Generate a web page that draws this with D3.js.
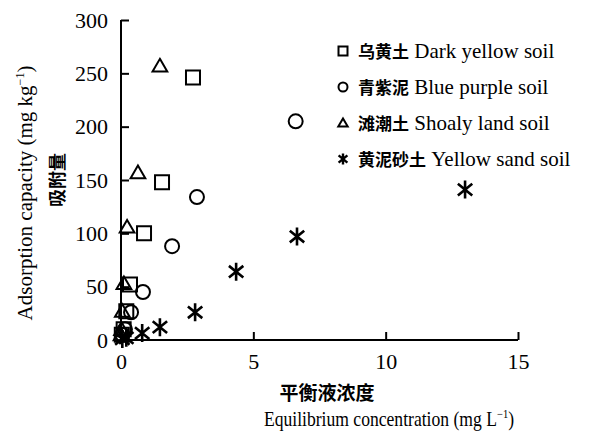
<!DOCTYPE html>
<html>
<head>
<meta charset="utf-8">
<script src="https://cdn.jsdelivr.net/npm/d3@7"></script>
<style>
  body { margin: 0; background: #fff; }
  text { fill: #000; }
</style>
</head>
<body>
<div class="vis-scatter"></div>
<script>
// series: equilibrium concentration (mg/L) and adsorption (mg/kg)
const darkYellowX = [0.03, 0.1, 0.2, 0.34, 0.87, 1.55, 2.72];
const darkYellowY = [5, 10, 27, 52, 100, 148, 246];
const bluePurpleX = [0.05, 0.15, 0.38, 0.83, 1.93, 2.87, 6.6];
const bluePurpleY = [5, 10, 26, 45, 88, 134, 205];
const shoalyX = [0.0, 0.02, 0.05, 0.11, 0.23, 0.64, 1.47];
const shoalyY = [5, 10, 27, 53, 106, 157, 257];
const yellowSandX = [0.05, 0.2, 0.8, 1.47, 2.8, 4.35, 6.65, 13.0];
const yellowSandY = [1, 2, 6.5, 12, 26, 64, 97, 141];

const xTicks = [0, 5, 10, 15];
const yTicks = [0, 50, 100, 150, 200, 250, 300];
const seriesNames = ['乌黄土 Dark yellow soil', '青紫泥 Blue purple soil', '滩潮土 Shoaly land soil', '黄泥砂土 Yellow sand soil'];
const seriesShapes = ['square', 'circle', 'triangle', 'star'];

const width = 603, height = 434;
const margin = {top: 20, right: 85, bottom: 94, left: 121};

const svg = d3.select('.vis-scatter').append('svg')
    .attr('width', width)
    .attr('height', height);

const x = d3.scaleLinear().domain([0, 15]).range([margin.left, width - margin.right]);
const y = d3.scaleLinear().domain([0, 300]).range([height - margin.bottom, margin.top]);

const serif = '"Liberation Serif", "Times New Roman", serif';
const cjk = '"Noto Sans CJK SC", sans-serif';

// axes
const xAxis = svg.append('g')
    .attr('transform', 'translate(0,' + y(0) + ')')
    .call(d3.axisBottom(x).tickValues(xTicks).tickSizeInner(-8).tickSizeOuter(0).tickPadding(13));
const yAxis = svg.append('g')
    .attr('transform', 'translate(' + x(0) + ',0)')
    .call(d3.axisLeft(y).tickValues(yTicks).tickSizeInner(-8).tickSizeOuter(0).tickPadding(13));

[xAxis, yAxis].forEach(g => {
    g.select('.domain').attr('stroke', '#000').attr('stroke-width', 2);
    g.selectAll('.tick line').attr('stroke', '#000').attr('stroke-width', 2);
    g.selectAll('.tick text')
        .style('font-family', serif)
        .style('font-size', '22px')
        .attr('fill', '#000');
});
yAxis.select('.domain').attr('d', 'M0,' + y(0) + 'V' + y(300));
xAxis.select('.domain').attr('d', 'M' + x(0) + ',0H' + x(15));

// markers
const star = (s) => {
    const h = s / 2;
    return 'M0,' + (-h) + 'V' + h +
        'M' + (-h * 0.8) + ',' + (-h * 0.65) + 'L' + (h * 0.8) + ',' + (h * 0.65) +
        'M' + (-h * 0.8) + ',' + (h * 0.65) + 'L' + (h * 0.8) + ',' + (-h * 0.65);
};
const markerPath = (shape, size) => {
    if (shape === 'square') {
        const h = size / 2;
        return 'M' + (-h) + ',' + (-h) + 'H' + h + 'V' + h + 'H' + (-h) + 'Z';
    }
    if (shape === 'circle') return d3.symbol().type(d3.symbolCircle).size(Math.PI * (size / 2) * (size / 2))();
    if (shape === 'triangle') {
        const h = size / 2;
        return 'M0,' + (-h) + 'L' + (h * 1.05) + ',' + (h * 0.8) + 'H' + (-h * 1.05) + 'Z';
    }
    return star(size);
};

const allX = [darkYellowX, bluePurpleX, shoalyX, yellowSandX];
const allY = [darkYellowY, bluePurpleY, shoalyY, yellowSandY];

allX.forEach((xs, i) => {
    const pts = xs.map((v, j) => ({x: v, y: allY[i][j]}));
    svg.append('g').selectAll('path')
        .data(pts)
        .enter().append('path')
        .attr('transform', d => 'translate(' + x(d.x) + ',' + y(d.y) + ')')
        .attr('d', markerPath(seriesShapes[i], i === 3 ? 18 : 14))
        .attr('fill', 'none')
        .attr('stroke', '#000')
        .attr('stroke-width', i === 3 ? 2.6 : 2);
});

// legend
const legend = svg.selectAll('.legend')
    .data(seriesNames)
    .enter().append('g')
    .attr('class', 'legend')
    .attr('transform', (d, i) => 'translate(343,' + (51 + i * 36) + ')');

legend.append('path')
    .attr('d', (d, i) => markerPath(seriesShapes[i], i === 3 ? 11 : 9))
    .attr('fill', 'none')
    .attr('stroke', '#000')
    .attr('stroke-width', (d, i) => i === 3 ? 2.4 : 2);

const lt = legend.append('text')
    .attr('x', 15)
    .attr('y', 7);
lt.append('tspan')
    .style('font-family', cjk)
    .style('font-weight', 'bold')
    .style('font-size', '17px')
    .text(d => d.split(' ')[0]);
lt.append('tspan')
    .style('font-family', serif)
    .style('font-size', '21px')
    .text(d => ' ' + d.split(' ').slice(1).join(' '));

// axis titles
const yt = svg.append('text')
    .attr('transform', 'translate(32,193) rotate(-90)')
    .attr('text-anchor', 'middle')
    .style('font-family', serif)
    .style('font-size', '21px');
yt.append('tspan').text('Adsorption capacity (mg kg');
yt.append('tspan').attr('dy', -8).style('font-size', '12px').text('−1');
yt.append('tspan').attr('dy', 8).text(')');

svg.append('text')
    .attr('transform', 'translate(64,180) rotate(-90)')
    .attr('text-anchor', 'middle')
    .style('font-family', cjk)
    .style('font-weight', 'bold')
    .style('font-size', '18px')
    .text('吸附量');

svg.append('text')
    .attr('x', 327)
    .attr('y', 400)
    .attr('text-anchor', 'middle')
    .style('font-family', cjk)
    .style('font-weight', 'bold')
    .style('font-size', '19px')
    .text('平衡液浓度');

// condensed look of the scanned title
const xt = svg.append('text')
    .attr('transform', 'translate(389,426) scale(0.88,1)')
    .attr('text-anchor', 'middle')
    .style('font-family', serif)
    .style('font-size', '20px');
xt.append('tspan').text('Equilibrium concentration (mg L');
xt.append('tspan').attr('dy', -8).style('font-size', '12px').text('−1');
xt.append('tspan').attr('dy', 8).text(')');
</script>
</body>
</html>
